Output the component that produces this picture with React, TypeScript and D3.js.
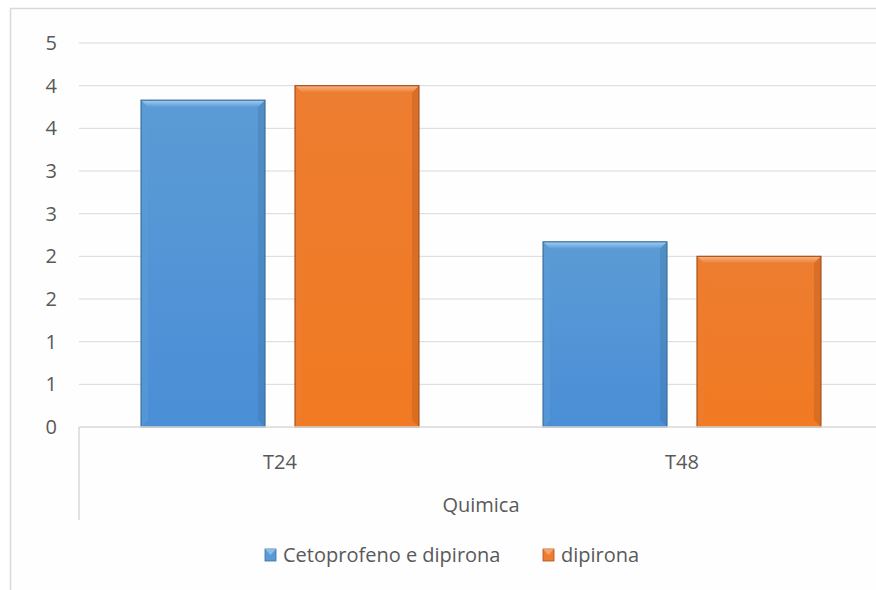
import React from "react";
import * as d3 from "d3";

const categories = ["T24", "T48"];
const groupLabel = "Quimica";
const seriesNames = ["Cetoprofeno e dipirona", "dipirona"];
const seriesA = [3.83, 2.17];
const seriesB = [4.0, 2.0];
const yTicks = [0, 0.5, 1, 1.5, 2, 2.5, 3, 3.5, 4, 4.5];

const W = 876;
const H = 590;
const plotLeft = 79;
const plotRight = 883;
const plotTop = 43;
const plotBottom = 427;

const colors = [
  { base: "#5b9bd5", light: "#a3cdf0", dark: "#3a6f9f", mid: "#4a8ed6" },
  { base: "#ed7d31", light: "#f9b584", dark: "#a9501a", mid: "#f17a22" },
];

const fmt = (v: number) => String(Math.round(v + 1e-9));

export default function App() {
  const x0 = d3.scaleBand<string>().domain(categories).range([plotLeft, plotRight]).paddingInner(0).paddingOuter(0);
  const x1 = d3.scaleBand<number>().domain([0, 1]).range([0, x0.bandwidth()]).paddingInner(0.195).paddingOuter(0.403);
  const y = d3.scaleLinear().domain([0, 4.5]).range([plotBottom, plotTop]);
  const series = [seriesA, seriesB];
  const font = "'Open Sans', 'Liberation Sans', sans-serif";
  const textColor = "#595959";
  const fs = 20;

  const bevel = 7;

  return (
    <svg width={W} height={H} style={{ position: "absolute", left: 0, top: 0 }}>
      <defs>
        {colors.map((c, i) => (
          <linearGradient key={i} id={`g${i}`} x1="0" y1="0" x2="0" y2="1">
            <stop offset="0" stopColor={c.base} />
            <stop offset="1" stopColor={c.mid} />
          </linearGradient>
        ))}
        {colors.map((c, i) => (
          <linearGradient key={`t${i}`} id={`t${i}`} x1="0" y1="0" x2="0" y2="1">
            <stop offset="0" stopColor={c.light} />
            <stop offset="1" stopColor={c.base} />
          </linearGradient>
        ))}
      </defs>
      <rect x={0} y={0} width={W} height={H} fill="#ffffff" />
      <rect x={10.5} y={8.5} width={W + 20} height={H + 20} fill="#fefefe" stroke="#d9d9d9" strokeWidth={1.5} />
      {yTicks.slice(1).map((t) => (
        <line key={t} x1={plotLeft} x2={W} y1={y(t)} y2={y(t)} stroke="#d9d9d9" strokeWidth={1} />
      ))}
      {yTicks.map((t) => (
        <text key={`l${t}`} x={57} y={y(t)} dy="0.35em" textAnchor="end" fontFamily={font} fontSize={fs} fill={textColor}>
          {fmt(t)}
        </text>
      ))}
      {categories.map((cat, ci) =>
        series.map((s, si) => {
          const bx = (x0(cat) as number) + (x1(si) as number);
          const bw = x1.bandwidth();
          const by = y(s[ci]);
          const bh = plotBottom - by;
          const c = colors[si];
          return (
            <g key={`${cat}-${si}`}>
              <rect x={bx} y={by} width={bw} height={bh} fill={`url(#g${si})`} />
              <polygon
                points={`${bx},${by} ${bx + bw},${by} ${bx + bw - bevel},${by + bevel} ${bx + bevel},${by + bevel}`}
                fill={`url(#t${si})`}
              />
              <polygon
                points={`${bx},${by} ${bx + bevel},${by + bevel} ${bx + bevel},${plotBottom - bevel} ${bx},${plotBottom}`}
                fill={c.base}
                opacity={0.6}
              />
              <polygon
                points={`${bx + bw},${by} ${bx + bw - bevel},${by + bevel} ${bx + bw - bevel},${plotBottom - bevel} ${bx + bw},${plotBottom}`}
                fill={c.dark}
                opacity={0.3}
              />
              <rect x={bx} y={by} width={bw} height={bh} fill="none" stroke={c.dark} strokeWidth={1.2} />
            </g>
          );
        })
      )}
      <line x1={plotLeft} x2={W} y1={plotBottom} y2={plotBottom} stroke="#d9d9d9" strokeWidth={1.5} />
      <line x1={plotLeft} x2={plotLeft} y1={plotBottom} y2={520} stroke="#d9d9d9" strokeWidth={1.5} />
      {categories.map((cat) => (
        <text
          key={cat}
          x={(x0(cat) as number) + x0.bandwidth() / 2}
          y={462}
          dy="0.35em"
          textAnchor="middle"
          fontFamily={font}
          fontSize={fs}
          fill={textColor}
        >
          {cat}
        </text>
      ))}
      <text x={(plotLeft + plotRight) / 2} y={505} dy="0.35em" textAnchor="middle" fontFamily={font} fontSize={fs} fill={textColor}>
        {groupLabel}
      </text>
      {seriesNames.map((name, i) => {
        const lx = i === 0 ? 265 : 543;
        const c = colors[i];
        return (
          <g key={name}>
            <rect x={lx} y={549} width={11} height={12} fill={c.base} stroke={c.dark} strokeWidth={0.8} />
            <polygon points={`${lx},${549} ${lx + 11},${549} ${lx + 5.5},${555}`} fill={c.light} opacity={0.7} />
            <text x={lx + 18} y={555} dy="0.35em" fontFamily={font} fontSize={fs} fill={textColor}>
              {name}
            </text>
          </g>
        );
      })}
    </svg>
  );
}
